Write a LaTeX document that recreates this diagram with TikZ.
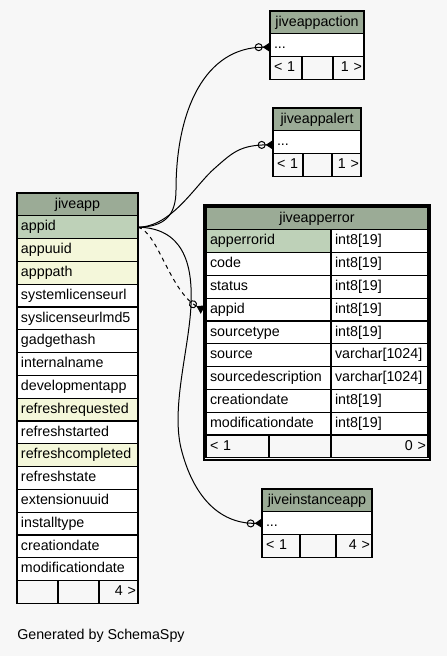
\documentclass[tikz,border=0pt]{standalone}
\usepackage{fontspec}
\setmainfont{Liberation Sans}
\usepackage{tikz}
\usetikzlibrary{positioning,arrows.meta}
\definecolor{headc}{HTML}{9BAB96}
\definecolor{pkc}{HTML}{BED1B8}
\definecolor{idxc}{HTML}{F4F7DA}
\definecolor{bgc}{HTML}{F7F7F7}

\begin{document}
\begin{tikzpicture}[x=0.75pt, y=-0.75pt,
    cell/.style={draw, rectangle, outer sep=0pt, inner xsep=3pt, inner ysep=0pt, minimum height=17.1pt,
                 text height=7.8pt, text depth=2.3pt, line width=1pt, font=\fontsize{10.7}{12}\selectfont},
    head/.style={cell, fill=headc, align=center},
    pk/.style={cell, fill=pkc, align=left},
    idx/.style={cell, fill=idxc, align=left},
    col/.style={cell, fill=white, align=left},
    footl/.style={cell, fill=bgc, align=left},
    footr/.style={cell, fill=bgc, align=right, inner xsep=1.5pt},
    conn/.style={line width=0.75pt, -{Circle[open,length=6pt,width=6pt] Triangle[reversed,length=5.5pt,width=7pt]}}
]

% Page
\fill[bgc] (0,0) rectangle (447,656);
\useasboundingbox (0,0) rectangle (447,656);

% jiveapp
\node[head, anchor=north west, text width=84.75pt] (app) at (17,193) {jiveapp};
\node[pk, text width=84.75pt, below=0pt of app] (app-appid) {appid};
\node[idx, text width=84.75pt, below=0pt of app-appid] (app-appuuid) {appuuid};
\node[idx, text width=84.75pt, below=0pt of app-appuuid] (app-apppath) {apppath};
\node[col, text width=84.75pt, below=0pt of app-apppath] (app-sysurl) {systemlicenseurl};
\node[col, text width=84.75pt, below=0pt of app-sysurl] (app-sysmd5) {syslicenseurlmd5};
\node[col, text width=84.75pt, below=0pt of app-sysmd5] (app-gadget) {gadgethash};
\node[col, text width=84.75pt, below=0pt of app-gadget] (app-intname) {internalname};
\node[col, text width=84.75pt, below=0pt of app-intname] (app-devapp) {developmentapp};
\node[idx, text width=84.75pt, below=0pt of app-devapp] (app-refreq) {refreshrequested};
\node[col, text width=84.75pt, below=0pt of app-refreq] (app-refstart) {refreshstarted};
\node[idx, text width=84.75pt, below=0pt of app-refstart] (app-refdone) {refreshcompleted};
\node[col, text width=84.75pt, below=0pt of app-refdone] (app-refstate) {refreshstate};
\node[col, text width=84.75pt, below=0pt of app-refstate] (app-extuuid) {extensionuuid};
\node[col, text width=84.75pt, below=0pt of app-extuuid] (app-instype) {installtype};
\node[col, text width=84.75pt, below=0pt of app-instype] (app-created) {creationdate};
\node[col, text width=84.75pt, below=0pt of app-created] (app-modified) {modificationdate};
\node[footl, text width=24.75pt, anchor=north west] (app-f1) at (app-modified.south west) {};
\node[footl, text width=24.75pt, right=0pt of app-f1] (app-f2) {};
\node[footr, text width=26.25pt, right=0pt of app-f2] (app-f3) {4 >};

% jiveappaction
\node[head, anchor=north west, text width=64.5pt] (act) at (270,11) {jiveappaction};
\node[col, text width=64.5pt, below=0pt of act] (act-dots) {...};
\node[footl, text width=18pt, anchor=north west] (act-f1) at (act-dots.south west) {< 1};
\node[footl, text width=17.25pt, right=0pt of act-f1] (act-f2) {};
\node[footr, text width=20.25pt, right=0pt of act-f2] (act-f3) {1 >};

% jiveappalert
\node[head, anchor=north west, text width=60pt] (alrt) at (273,108) {jiveappalert};
\node[col, text width=60pt, below=0pt of alrt] (alrt-dots) {...};
\node[footl, text width=16.5pt, anchor=north west] (alrt-f1) at (alrt-dots.south west) {< 1};
\node[footl, text width=15.75pt, right=0pt of alrt-f1] (alrt-f2) {};
\node[footr, text width=18.75pt, right=0pt of alrt-f2] (alrt-f3) {1 >};

% jiveapperror
\node[head, anchor=north west, text width=160.5pt] (err) at (206,207) {jiveapperror};
\node[pk, text width=87.75pt, anchor=north west] (err-id) at (err.south west) {apperrorid};
\node[col, text width=87.75pt, below=0pt of err-id] (err-code) {code};
\node[col, text width=87.75pt, below=0pt of err-code] (err-status) {status};
\node[col, text width=87.75pt, below=0pt of err-status] (err-appid) {appid};
\node[col, text width=87.75pt, below=0pt of err-appid] (err-stype) {sourcetype};
\node[col, text width=87.75pt, below=0pt of err-stype] (err-source) {source};
\node[col, text width=87.75pt, below=0pt of err-source] (err-sdesc) {sourcedescription};
\node[col, text width=87.75pt, below=0pt of err-sdesc] (err-created) {creationdate};
\node[col, text width=87.75pt, below=0pt of err-created] (err-modified) {modificationdate};
\node[col, text width=66.75pt, right=0pt of err-id] (err-id-t) {int8[19]};
\node[col, text width=66.75pt, right=0pt of err-code] (err-code-t) {int8[19]};
\node[col, text width=66.75pt, right=0pt of err-status] (err-status-t) {int8[19]};
\node[col, text width=66.75pt, right=0pt of err-appid] (err-appid-t) {int8[19]};
\node[col, text width=66.75pt, right=0pt of err-stype] (err-stype-t) {int8[19]};
\node[col, text width=66.75pt, right=0pt of err-source] (err-source-t) {varchar[1024]};
\node[col, text width=66.75pt, right=0pt of err-sdesc] (err-sdesc-t) {varchar[1024]};
\node[col, text width=66.75pt, right=0pt of err-created] (err-created-t) {int8[19]};
\node[col, text width=66.75pt, right=0pt of err-modified] (err-modified-t) {int8[19]};
\node[footl, text width=41.25pt, anchor=north west] (err-f1) at (err-modified.south west) {< 1};
\node[footl, text width=40.5pt, right=0pt of err-f1] (err-f2) {};
\node[footr, text width=69.75pt, right=0pt of err-f2] (err-f3) {0 >};
\draw[line width=1.6pt] ([shift={(-1.7pt,1.7pt)}]err.north west) rectangle ([shift={(1.7pt,-1.7pt)}]err-f3.south east);

% jiveinstanceapp
\node[head, anchor=north west, text width=76.5pt] (inst) at (262,489) {jiveinstanceapp};
\node[col, text width=76.5pt, below=0pt of inst] (inst-dots) {...};
\node[footl, text width=22.5pt, anchor=north west] (inst-f1) at (inst-dots.south west) {< 1};
\node[footl, text width=21pt, right=0pt of inst-f1] (inst-f2) {};
\node[footr, text width=24pt, right=0pt of inst-f2] (inst-f3) {4 >};

% Relationships
\draw[conn] (app-appid.east) .. controls (165,227) and (176,215) .. (176,190)
    .. controls (176,110) and (205,47) .. ([yshift=-1.5pt]act-dots.west);
\draw[conn] (app-appid.east) .. controls (172,227) and (196,184) .. (215,168)
    .. controls (232,153) and (240,145) .. ([yshift=-2pt]alrt-dots.west);
\draw[conn, dashed] (app-appid.east) .. controls (158,232) and (170,292) .. ([xshift=-2.25pt]err-appid.west);
\draw[conn] (app-appid.east) .. controls (182,228) and (193,262) .. (191,305)
    .. controls (189,350) and (170,410) .. (182,452)
    .. controls (195,500) and (222,524) .. (inst-dots.west);

\node[anchor=west, inner sep=0pt, font=\fontsize{10.7}{12}\selectfont] (gen) at (17,636) {Generated by SchemaSpy};

\end{tikzpicture}
\end{document}
